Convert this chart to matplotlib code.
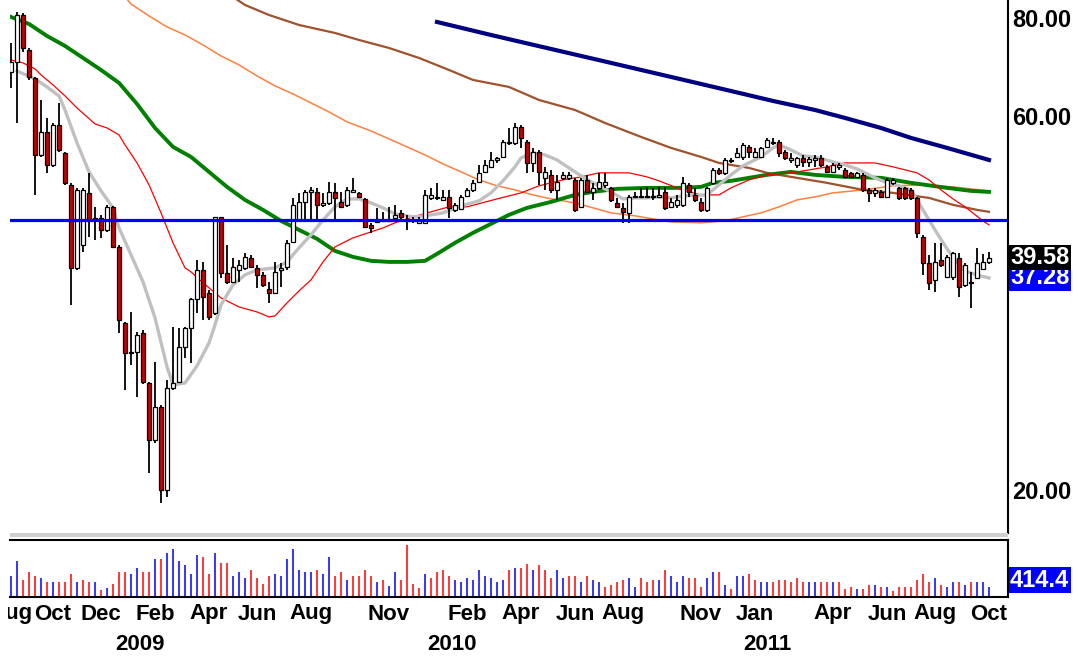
import numpy as np
import pandas as pd
import matplotlib
matplotlib.use("Agg")
import matplotlib.pyplot as plt
from matplotlib.patches import Rectangle
from matplotlib.ticker import NullLocator
from matplotlib.transforms import Bbox, TransformedBbox

plt.rcParams['font.family'] = ['Liberation Sans', 'DejaVu Sans']

# weekly candles Aug 2008 - Oct 2011
opens = [68.25, 70.30, 80.69, 72.81, 67.07, 53.50, 57.24, 51.96, 58.43, 53.82,
         49.00, 38.40, 41.08, 47.86, 44.21, 44.47, 42.93, 45.94, 40.84, 32.67,
         29.92, 30.00, 31.72, 27.39, 23.17, 25.53, 20.00, 26.99, 27.47, 30.45,
         32.19, 35.05, 38.17, 35.68, 33.65, 44.61, 37.84, 36.85, 38.17, 38.40,
         39.54, 38.40, 37.62, 36.10, 35.68, 38.17, 38.51, 41.45, 44.21, 46.61,
         48.00, 48.00, 46.21, 46.47, 48.00, 46.61, 46.21, 48.00, 47.86, 47.02,
         43.57, 43.95, 44.08, 44.08, 44.47, 45.13, 44.08, 44.08, 43.83, 43.83,
         47.16, 47.16, 46.88, 47.30, 45.53, 45.67, 47.44, 48.28, 49.43, 50.90,
         51.66, 52.72, 53.19, 55.42, 55.42, 58.09, 55.59, 52.26, 53.98, 50.02,
         50.46, 48.28, 50.02, 50.02, 49.72, 45.94, 49.72, 48.00, 48.57, 49.00,
         48.57, 46.47, 45.80, 45.13, 47.30, 47.30, 47.30, 47.30, 47.30, 48.00,
         45.94, 46.21, 46.21, 49.00, 47.58, 46.61, 45.53, 49.29, 51.20, 50.76,
         52.57, 53.19, 53.19, 54.78, 53.19, 53.19, 54.78, 55.42, 55.59, 53.98,
         52.72, 51.96, 53.03, 52.42, 52.72, 53.03, 51.66, 50.90, 51.66, 51.20,
         50.76, 50.16, 50.46, 48.28, 47.86, 48.00, 47.30, 49.29, 48.57, 48.57,
         48.28, 47.16, 42.06, 38.97, 37.07, 39.31, 37.40, 37.40, 39.54, 36.53,
         36.75, 37.29, 38.25, 39.05]
highs = [74.33, 81.41, 81.17, 73.24, 67.27, 62.87, 59.64, 58.77, 62.32, 53.98,
         49.29, 48.57, 48.57, 50.76, 45.94, 44.87, 46.21, 46.07, 41.08, 32.77,
         33.74, 31.82, 32.00, 27.47, 29.14, 25.68, 27.63, 32.29, 32.19, 32.29,
         35.16, 39.31, 39.08, 35.99, 44.61, 44.61, 41.08, 39.54, 39.31, 40.13,
         39.90, 38.74, 37.95, 36.85, 39.08, 38.97, 41.69, 47.15, 47.86, 48.28,
         48.71, 48.57, 47.86, 49.43, 49.29, 48.00, 48.71, 50.02, 48.00, 47.16,
         43.83, 45.80, 45.27, 45.94, 46.21, 45.53, 44.87, 44.61, 44.61, 48.28,
         48.57, 49.29, 48.28, 48.28, 46.47, 47.58, 48.57, 49.72, 51.96, 52.72,
         53.98, 53.19, 55.91, 57.91, 58.77, 58.43, 55.91, 54.62, 54.29, 51.66,
         51.20, 50.46, 50.90, 50.90, 50.02, 50.02, 50.46, 49.29, 50.76, 50.76,
         48.71, 47.16, 46.47, 47.58, 48.00, 48.57, 48.71, 48.57, 48.71, 48.71,
         47.16, 47.58, 50.16, 49.29, 48.57, 47.16, 48.71, 51.50, 51.50, 53.03,
         53.03, 54.62, 55.42, 55.10, 54.62, 54.78, 56.24, 56.24, 55.91, 54.29,
         53.82, 53.19, 53.50, 53.19, 53.50, 53.50, 51.96, 52.26, 52.26, 51.50,
         50.90, 50.90, 50.76, 48.57, 48.57, 48.28, 50.02, 50.02, 48.71, 48.71,
         48.57, 47.30, 42.31, 39.90, 41.33, 41.33, 39.90, 40.25, 40.13, 38.97,
         37.95, 40.73, 39.96, 40.20]
lows = [65.13, 58.77, 72.39, 66.68, 47.58, 53.19, 50.76, 51.66, 53.98, 49.00,
        34.44, 38.17, 40.25, 42.06, 41.69, 41.94, 42.68, 40.73, 31.72, 26.83,
        28.88, 26.29, 27.31, 21.03, 22.97, 19.25, 19.59, 26.83, 27.39, 29.48,
        29.05, 33.65, 32.96, 32.96, 33.45, 37.29, 36.64, 36.75, 36.85, 38.17,
        38.40, 36.21, 36.31, 34.65, 35.58, 36.31, 38.17, 41.33, 43.95, 44.21,
        44.21, 44.21, 45.94, 46.21, 44.21, 45.80, 45.94, 47.86, 47.16, 43.19,
        42.56, 43.95, 43.95, 43.95, 43.95, 44.21, 42.93, 43.83, 43.83, 43.70,
        46.88, 46.88, 46.75, 44.47, 45.27, 45.53, 47.30, 48.00, 49.29, 50.90,
        51.50, 52.26, 53.03, 55.10, 55.10, 54.62, 50.76, 50.90, 49.00, 48.28,
        47.86, 46.88, 49.72, 49.72, 45.27, 45.80, 47.86, 46.88, 48.28, 48.57,
        46.61, 45.80, 43.83, 43.83, 47.16, 47.16, 47.16, 46.88, 47.16, 45.53,
        45.94, 45.80, 45.94, 47.30, 46.61, 45.27, 45.27, 49.00, 50.46, 50.46,
        52.26, 53.03, 52.72, 53.03, 53.03, 53.03, 54.78, 55.10, 53.19, 52.72,
        52.26, 51.50, 51.66, 51.66, 51.66, 51.66, 50.76, 50.76, 51.20, 50.02,
        50.02, 50.02, 48.00, 46.61, 47.30, 47.16, 47.16, 49.00, 46.88, 46.88,
        46.88, 41.94, 37.62, 35.99, 35.78, 38.51, 37.29, 37.07, 35.26, 36.31,
        34.14, 37.18, 38.14, 38.80]
closes = [70.30, 80.69, 73.24, 67.27, 53.50, 57.24, 51.96, 58.43, 54.29, 49.29,
          38.40, 48.28, 48.28, 44.21, 44.47, 42.93, 45.94, 40.84, 32.96, 29.92,
          30.00, 31.54, 27.47, 23.17, 25.53, 20.00, 26.99, 27.39, 30.45, 32.19,
          35.05, 38.17, 35.26, 33.25, 44.61, 37.84, 36.85, 38.51, 38.74, 39.66,
          38.51, 37.62, 36.53, 35.68, 37.95, 38.40, 41.33, 46.21, 46.61, 48.00,
          48.28, 46.21, 46.47, 48.00, 47.16, 45.94, 48.28, 48.28, 47.30, 43.32,
          43.19, 44.34, 44.21, 44.34, 44.87, 44.61, 44.21, 44.21, 44.21, 47.58,
          47.58, 47.30, 47.30, 45.80, 46.21, 47.30, 48.28, 49.29, 50.76, 51.96,
          52.72, 53.03, 55.59, 55.59, 58.09, 56.24, 52.26, 53.98, 50.90, 50.90,
          48.28, 49.43, 50.46, 50.46, 45.53, 49.72, 48.00, 48.57, 49.43, 49.43,
          46.88, 45.94, 45.27, 47.30, 47.44, 47.44, 47.44, 47.44, 47.58, 45.80,
          46.61, 46.88, 49.29, 48.00, 46.88, 45.53, 48.57, 51.20, 50.76, 52.72,
          52.72, 53.82, 55.10, 53.98, 53.98, 54.62, 55.91, 55.59, 53.82, 53.03,
          53.03, 53.03, 52.42, 52.88, 53.03, 51.96, 50.90, 51.96, 51.96, 50.16,
          50.16, 50.76, 48.28, 47.86, 48.28, 47.30, 49.72, 49.72, 47.16, 47.16,
          47.16, 42.56, 38.97, 36.75, 39.08, 38.74, 39.66, 40.13, 36.31, 38.74,
          36.85, 38.97, 39.05, 39.58]
volume = [521, 874, 420, 622, 521, 462, 370, 370, 370, 370,
          563, 370, 412, 370, 370, 168, 210, 311, 622, 622,
          563, 714, 622, 622, 924, 924, 1075, 1176, 874, 773,
          563, 1025, 966, 563, 1075, 823, 823, 512, 622, 462,
          664, 462, 311, 512, 563, 512, 924, 1176, 664, 622,
          622, 664, 563, 966, 512, 622, 420, 512, 512, 664,
          512, 370, 420, 260, 622, 420, 1277, 311, 210, 563,
          462, 622, 664, 512, 412, 370, 462, 412, 664, 512,
          462, 370, 412, 664, 714, 714, 815, 664, 773, 665,
          469, 665, 452, 512, 512, 358, 512, 409, 358, 247,
          299, 358, 409, 452, 247, 452, 358, 409, 409, 665,
          512, 358, 512, 452, 452, 247, 452, 614, 614, 299,
          196, 512, 512, 554, 409, 358, 358, 358, 409, 409,
          358, 452, 358, 358, 358, 358, 358, 358, 358, 196,
          247, 196, 196, 299, 299, 247, 247, 145, 247, 247,
          247, 409, 554, 358, 452, 299, 247, 358, 358, 299,
          358, 358, 358, 256]
volume_label = 414.4

# moving averages, sampled at week indices
ma_gray_wk = [1, 4, 6, 8, 9, 11, 13, 15, 17, 18, 20, 22, 24, 26, 27, 29, 31, 33, 34, 35,
              37, 39, 41, 44, 46, 48, 50, 52, 54, 56, 58, 60, 62, 64, 67, 69, 72, 75, 78, 80,
              82, 84, 85, 87, 89, 91, 94, 96, 98, 100, 102, 104, 106, 108, 110, 112, 116, 118,
              120, 122, 125, 127, 128, 130, 132, 134, 137, 139, 141, 144, 146, 148, 150, 152,
              154, 156, 158, 159, 161, 163]
ma_gray = [68.46, 66.87, 65.32, 63.62, 61.05, 55.42, 50.90, 48.14, 45.80, 43.19, 39.90,
           36.85, 33.16, 28.72, 27.23, 27.39, 28.80, 30.81, 32.48, 34.44, 36.53, 37.62,
           38.17, 38.40, 39.08, 40.73, 42.31, 44.21, 45.94, 47.02, 47.02, 46.47, 45.80,
           45.00, 44.61, 44.74, 45.13, 46.07, 46.75, 47.86, 49.58, 51.66, 53.03, 53.82,
           53.50, 52.72, 50.90, 49.72, 48.86, 48.00, 47.02, 47.16, 47.16, 47.30, 47.16,
           47.44, 47.58, 49.00, 50.46, 51.81, 53.19, 54.62, 55.10, 54.29, 53.35, 53.19,
           52.42, 51.96, 51.35, 50.02, 49.29, 48.86, 48.28, 45.53, 42.93, 40.61, 38.74,
           38.06, 37.60, 37.28]
ma_red_wk = [0, 2, 4, 5, 7, 9, 11, 14, 16, 18, 19, 21, 23, 25, 27, 29, 30, 32, 35, 38,
             41, 43, 44, 46, 48, 50, 52, 54, 57, 60, 62, 64, 67, 70, 73, 76, 81, 85, 88, 92,
             95, 98, 103, 106, 108, 111, 113, 115, 118, 120, 123, 126, 130, 133, 136, 139,
             144, 147, 151, 153, 155, 157, 159, 162, 163]
ma_red = [70.71, 70.10, 68.87, 67.67, 65.71, 63.62, 61.41, 58.60, 57.91, 56.74, 55.10,
          52.26, 49.00, 45.13, 41.33, 38.40, 37.95, 36.75, 35.16, 34.24, 33.74, 33.25,
          33.35, 34.65, 35.89, 37.07, 39.08, 40.84, 41.94, 42.68, 43.19, 43.83, 44.61,
          45.27, 45.94, 45.94, 47.02, 47.86, 48.86, 49.72, 50.16, 50.76, 50.76, 50.16,
          49.58, 48.57, 48.00, 47.58, 47.58, 48.57, 49.72, 50.46, 50.76, 51.20, 51.66,
          52.26, 52.26, 51.66, 50.76, 49.72, 48.28, 47.02, 45.94, 44.08, 43.57]
ma_green_wk = [0, 3, 6, 9, 12, 15, 18, 21, 24, 27, 30, 33, 36, 39, 42, 45, 48, 51, 54, 57,
               60, 63, 66, 69, 71, 74, 77, 80, 83, 86, 90, 94, 97, 101, 106, 112, 115, 117,
               120, 123, 126, 130, 134, 139, 145, 150, 156, 160, 163]
ma_green = [80.22, 78.59, 75.87, 73.68, 71.13, 68.66, 66.10, 62.14, 57.91, 54.78, 53.19,
            50.90, 48.71, 46.88, 45.53, 44.08, 42.93, 41.82, 40.36, 39.66, 39.20, 39.08,
            39.08, 39.20, 40.01, 41.33, 42.56, 43.70, 44.87, 45.80, 46.61, 47.58, 48.00,
            48.43, 48.57, 48.57, 48.71, 49.29, 49.58, 50.02, 50.46, 50.90, 50.46, 50.16,
            50.02, 49.29, 48.57, 48.14, 48.00]
ma_orange_wk = [19, 20, 23, 26, 29, 32, 35, 38, 41, 44, 47, 50, 53, 56, 60, 63, 66, 69, 72,
                75, 78, 81, 84, 87, 90, 94, 97, 100, 104, 107, 110, 115, 119, 122, 125, 128,
                131, 134, 137, 142, 147, 152, 157, 163]
ma_orange = [85.07, 83.34, 80.46, 77.90, 76.10, 73.89, 71.55, 69.69, 67.47, 65.52, 63.99,
             62.32, 60.70, 58.95, 57.40, 56.08, 54.78, 53.50, 52.11, 50.90, 49.72, 48.86,
             48.28, 47.58, 47.02, 46.47, 45.80, 45.13, 44.74, 44.34, 43.95, 43.83, 44.08,
             44.61, 45.13, 45.94, 46.88, 47.30, 47.86, 48.28, 48.86, 49.00, 48.71, 48.14]
ma_brown_wk = [37, 39, 43, 48, 54, 58, 63, 68, 73, 77, 83, 88, 94, 99, 105, 110, 115, 118,
               123, 126, 131, 136, 142, 147, 153, 157, 161, 163]
ma_brown = [85.07, 83.10, 80.69, 78.36, 76.54, 74.98, 73.24, 71.13, 68.66, 66.68, 65.32,
            62.87, 61.05, 58.77, 56.41, 54.62, 53.19, 52.26, 51.50, 50.76, 50.02, 49.29,
            48.28, 47.86, 47.16, 46.21, 45.53, 45.27]
ma_navy_wk = [71, 80, 90, 100, 110, 120, 127, 134, 139, 145, 150, 156, 163]
ma_navy = [79.05, 76.09, 73.03, 70.10, 67.27, 64.55, 62.69, 61.05, 59.64, 57.91, 56.24,
           54.62, 52.72]
support_level = 44.21

price_ticks = [20, 60, 80]
month_ticks = ['2008-08', '2008-10', '2008-12', '2009-02', '2009-04', '2009-06', '2009-08',
               '2009-11', '2010-02', '2010-04', '2010-06', '2010-08', '2010-11', '2011-01',
               '2011-04', '2011-06', '2011-08', '2011-10']
year_ticks = [2009, 2010, 2011]

# each bar is one week, dated by its Monday
weeks = pd.date_range('2008-08-18', periods=len(closes), freq='W-MON')

W, H = 1078, 661


def px_rect(x0, y0, x1, y1):
    return [x0 / W, 1 - y1 / H, (x1 - x0) / W, (y1 - y0) / H]


fig = plt.figure(figsize=(W / 100, H / 100), dpi=100)
fig.patch.set_facecolor('white')
ax = fig.add_axes(px_rect(10, 0, 1008, 533))
axv = fig.add_axes(px_rect(10, 540, 1008, 597))

x = np.arange(len(closes))
o = np.array(opens)
hi = np.array(highs)
lo = np.array(lows)
c = np.array(closes)
up = c >= o

# moving averages under the candles
ax.plot(ma_orange_wk, ma_orange, color='#ff8040', lw=1.1, zorder=2)
ax.plot(ma_brown_wk, ma_brown, color='#a0522d', lw=1.6, zorder=2)
ax.plot(ma_navy_wk, ma_navy, color='#000080', lw=3.0, zorder=2)
ax.plot(ma_green_wk, ma_green, color='#008000', lw=2.8, zorder=2)
ax.plot(ma_red_wk, ma_red, color='#ff0000', lw=0.9, zorder=2)
ax.plot(ma_gray_wk, ma_gray, color='#c0c0c0', lw=2.4, zorder=2)

# candles
ax.vlines(x, lo, hi, color='black', lw=1.3, zorder=3)
body_lo = np.minimum(o, c)
body_hi = np.maximum(o, c)
ax.bar(x, body_hi - body_lo, bottom=body_lo, width=0.66,
       color=np.where(up, 'white', '#c80000'), edgecolor='black', linewidth=0.9, zorder=4)

ax.axhline(support_level, color='#0000ff', lw=2.3, zorder=5)

ax.set_yscale('log')
ax.set_ylim(17.63, 84.32)
ax.set_xlim(-0.17, 166.17)
ax.yaxis.tick_right()
ax.yaxis.set_minor_locator(NullLocator())
ax.set_yticks(price_ticks)
ax.set_yticklabels([f'{t:.2f}' for t in price_ticks])
ax.tick_params(axis='y', length=0, pad=3, labelsize=17)
for lab in ax.get_yticklabels():
    lab.set_fontweight('bold')
ax.set_xticks([])
for side in ['top', 'left', 'bottom']:
    ax.spines[side].set_visible(False)
ax.spines['right'].set_linewidth(1.5)

# last values on the price scale
ax.text(1.002, ma_gray[-1], f'{ma_gray[-1]:.2f}', transform=ax.get_yaxis_transform(),
        ha='left', va='center', color='white', fontsize=17, fontweight='bold',
        bbox=dict(boxstyle='square,pad=0.06', fc='#0000ff', ec='none'), zorder=6)
ax.text(1.002, closes[-1], f'{closes[-1]:.2f}', transform=ax.get_yaxis_transform(),
        ha='left', va='center', color='white', fontsize=17, fontweight='bold',
        bbox=dict(boxstyle='square,pad=0.06', fc='black', ec='none'), zorder=7)

# volume
prev = np.concatenate([[c[0] - 1], c[:-1]])
vol_colors = np.where(c > prev, '#0000ff', '#ff0000')
axv.vlines(x, 0, volume, colors=vol_colors, lw=1.1)
axv.set_xlim(ax.get_xlim())
axv.set_ylim(0, 1391)
axv.set_yticks([])
axv.set_xticks([])
axv.spines['left'].set_visible(False)
for side in ['top', 'bottom', 'right']:
    axv.spines[side].set_linewidth(1.5)
axv.text(1.002, volume_label, f'{volume_label:.1f}', transform=axv.get_yaxis_transform(),
         ha='left', va='center', color='white', fontsize=17, fontweight='bold',
         bbox=dict(boxstyle='square,pad=0.06', fc='#0000ff', ec='none'))

# date labels: months under the first week starting in them, years under January
periods = weeks.to_period('M')
label_clip = TransformedBbox(Bbox.from_extents(8 / W, 0, 1, 1), fig.transFigure)
for m in month_ticks:
    pos = int(np.argmax(periods == pd.Period(m, 'M')))
    t = axv.annotate(pd.Period(m, 'M').strftime('%b'), xy=(pos, 0),
                     xycoords=axv.get_xaxis_transform(), xytext=(0, -17),
                     textcoords='offset pixels', ha='center', va='center',
                     fontsize=16, fontweight='bold', annotation_clip=False)
    t.set_clip_box(label_clip)
    t.set_clip_on(True)
for yr in year_ticks:
    jan = np.where(periods == pd.Period(f'{yr}-01', 'M'))[0]
    axv.annotate(str(yr), xy=(jan.mean(), 0), xycoords=axv.get_xaxis_transform(),
                 xytext=(0, -48), textcoords='offset pixels', ha='center', va='center',
                 fontsize=16, fontweight='bold', annotation_clip=False)

# scroll bar strip between the panels
fig.patches.append(Rectangle((10 / W, 1 - 537 / H), 998 / W, 4 / H,
                             transform=fig.transFigure, fc='#d0d0d0', ec='none'))

fig.savefig('out.png', dpi=100)
